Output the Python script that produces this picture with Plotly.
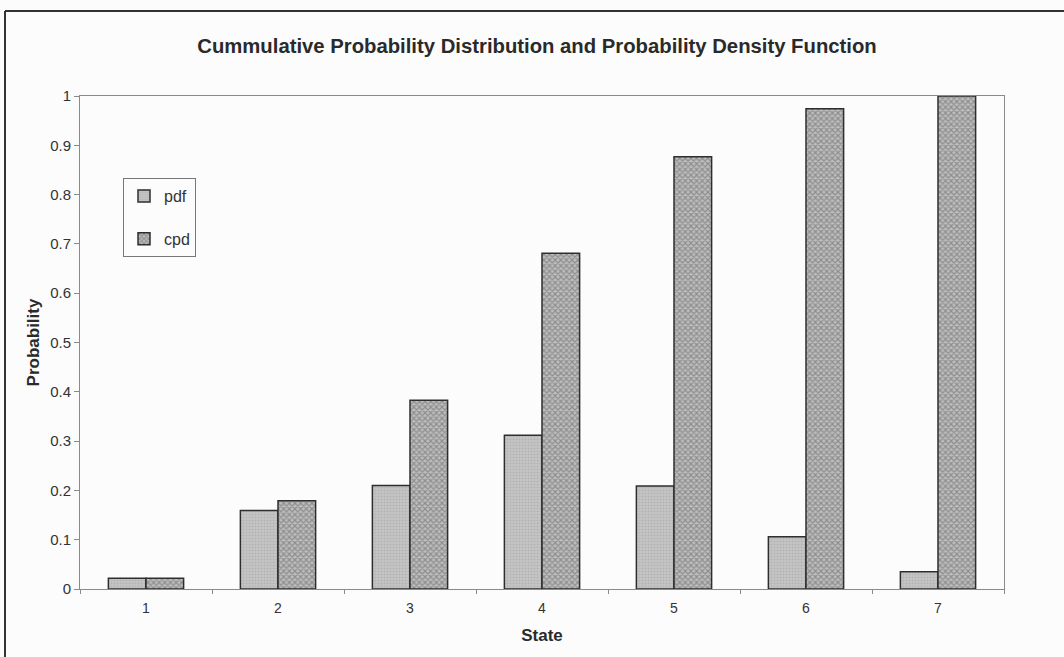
import plotly.graph_objects as go

states = ["1", "2", "3", "4", "5", "6", "7"]
pdf_vals = [0.022, 0.159, 0.210, 0.312, 0.209, 0.106, 0.035]
cpd_vals = [0.022, 0.179, 0.383, 0.681, 0.877, 0.974, 1.000]
y_ticks = [0, 0.1, 0.2, 0.3, 0.4, 0.5, 0.6, 0.7, 0.8, 0.9, 1]
y_tick_text = ["0", "0.1", "0.2", "0.3", "0.4", "0.5", "0.6", "0.7", "0.8", "0.9", "1"]

W, H = 1064, 657
L, R, T, B = 80, 60, 96, 68
pw, ph = W - L - R, H - T - B

def px_x(x):
    return (x - L) / pw

def px_y(y):
    return (H - B - y) / ph

fig = go.Figure()
fig.add_trace(go.Bar(
    x=states, y=pdf_vals, name="pdf", legendgroup="a",
    marker=dict(color="#c6c6c6", line=dict(color="#2e2e2e", width=1.5),
                pattern=dict(shape=".", fgcolor="#a0a0a0", size=3, solidity=0.4)),
))
fig.add_trace(go.Bar(
    x=states, y=cpd_vals, name="cpd", legendgroup="b",
    marker=dict(color="#bdbdbd", line=dict(color="#2e2e2e", width=1.5),
                pattern=dict(shape="x", fgcolor="#5e5e5e", size=4, solidity=0.5)),
))

fig.update_layout(
    width=W, height=H,
    margin=dict(l=L, r=R, t=T, b=B),
    paper_bgcolor="#fcfcfc", plot_bgcolor="#fcfcfc",
    barmode="group", bargap=0.43, bargroupgap=0,
    font=dict(family="Liberation Sans, Arial, sans-serif", color="#333333"),
    title=dict(text="<b>Cummulative Probability Distribution and Probability Density Function</b>",
               x=px_x(537), xref="paper", xanchor="center",
               y=1 - 46 / H, yref="container", yanchor="middle",
               font=dict(size=20.3, color="#2a2a2a")),
    legend=dict(x=px_x(123), y=px_y(178), xanchor="left", yanchor="top",
                bgcolor="#fcfcfc", bordercolor="#777777", borderwidth=1,
                font=dict(size=16, color="#333333"),
                traceorder="grouped", tracegroupgap=19,
                itemwidth=30),
    showlegend=True,
)

fig.update_xaxes(
    type="category", showline=True, linecolor="#8a8a8a", linewidth=1, mirror=True,
    ticks="outside", ticklen=4, tickcolor="#8a8a8a", tickson="boundaries",
    tickfont=dict(size=14, color="#333333"), ticklabelstandoff=6, showgrid=False,
    title=dict(text="<b>State</b>", font=dict(size=17, color="#2a2a2a"), standoff=14),
)
fig.update_yaxes(
    range=[0, 1], showline=True, linecolor="#8a8a8a", linewidth=1, mirror=True,
    ticks="outside", ticklen=5, tickcolor="#8a8a8a",
    tickmode="array", tickvals=y_ticks, ticktext=y_tick_text,
    tickfont=dict(size=15, color="#333333"), showgrid=False, zeroline=False,
    title=dict(text="<b>Probability</b>", font=dict(size=17, color="#2a2a2a"), standoff=6),
)

# outer chart frame (left and top edges visible in the scan)
fig.add_shape(type="line", xref="paper", yref="paper",
              x0=px_x(5), x1=px_x(5), y0=px_y(11), y1=px_y(H + 5),
              line=dict(color="#333333", width=2))
fig.add_shape(type="line", xref="paper", yref="paper",
              x0=px_x(5), x1=px_x(W + 5), y0=px_y(11), y1=px_y(11),
              line=dict(color="#333333", width=2))

fig.write_html("out.html")
